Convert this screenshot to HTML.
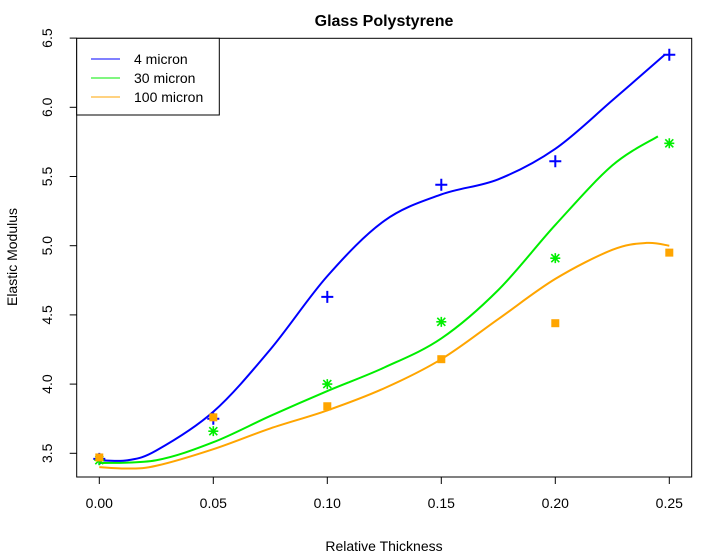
<!DOCTYPE html>
<html><head><meta charset="utf-8"><style>
body{margin:0;background:#fff}
svg{display:block;font-family:"Liberation Sans",Arial,sans-serif}
</style></head><body>
<svg id="chart" width="711" height="554" viewBox="0 0 711 554"></svg>
<script>
const xTicks=[0,0.05,0.1,0.15,0.2,0.25];
const xTickLabels=["0.00","0.05","0.10","0.15","0.20","0.25"];
const yTicks=[3.5,4,4.5,5,5.5,6,6.5];
const yTickLabels=["3.5","4.0","4.5","5.0","5.5","6.0","6.5"];
const ptX=[0,0.05,0.1,0.15,0.2,0.25];
const pts4=[3.46,3.75,4.63,5.44,5.61,6.38];
const pts30=[3.45,3.66,4.0,4.45,4.91,5.74];
const pts100=[3.47,3.76,3.84,4.18,4.44,4.95];
const curve4X=[0,0.0125,0.025,0.05,0.075,0.1,0.125,0.15,0.175,0.2,0.225,0.248];
const curve4Y=[3.45,3.45,3.52,3.80,4.25,4.78,5.18,5.37,5.48,5.70,6.05,6.38];
const curve30X=[0,0.025,0.05,0.075,0.1,0.125,0.15,0.175,0.2,0.225,0.245];
const curve30Y=[3.43,3.45,3.58,3.77,3.95,4.12,4.33,4.68,5.15,5.58,5.79];
const curve100X=[0,0.0125,0.025,0.05,0.075,0.1,0.125,0.15,0.175,0.2,0.225,0.24,0.25];
const curve100Y=[3.40,3.39,3.41,3.53,3.68,3.81,3.97,4.18,4.47,4.76,4.97,5.02,5.00];
const NS="http://www.w3.org/2000/svg";
const svg=document.getElementById('chart');
const sx=v=>99.3+v/0.05*114;
const sy=v=>453.3-(v-3.5)/0.5*69.2;
function mk(t,a,p){const e=document.createElementNS(NS,t);for(const k in a)e.setAttribute(k,a[k]);(p||svg).appendChild(e);return e;}
let e;
e=mk('rect',{x:76.7,y:38.3,width:615,height:438.7,fill:'none',stroke:'#000','stroke-width':1});


e=mk('text',{x:384,y:26,'text-anchor':'middle','font-size':16,'font-weight':'bold'});e.textContent='Glass Polystyrene';


e=mk('text',{x:384,y:551,'text-anchor':'middle','font-size':14});e.textContent='Relative Thickness';


e=mk('text',{x:17,y:257,'text-anchor':'middle','font-size':14,transform:'rotate(-90 17 257)'});e.textContent='Elastic Modulus';


xTicks.forEach((t,i)=>{
  e=mk('line',{x1:sx(t),x2:sx(t),y1:477,y2:484,stroke:'#000'});
  
  
  e=mk('text',{x:sx(t),y:508,'text-anchor':'middle','font-size':14});e.textContent=xTickLabels[i];
  
  
});
yTicks.forEach((t,i)=>{
  e=mk('line',{x1:69.7,x2:76.7,y1:sy(t),y2:sy(t),stroke:'#000'});
  
  
  e=mk('text',{x:52,y:sy(t),'text-anchor':'middle','font-size':14,transform:`rotate(-90 52 ${sy(t)})`});e.textContent=yTickLabels[i];
  
  
});
function curvePath(X,Y){
  const P=X.map((x,i)=>[sx(x),sy(Y[i])]);
  let d=`M${P[0][0]},${P[0][1]}`;
  for(let i=0;i<P.length-1;i++){
    const p0=P[i-1]||P[i],p1=P[i],p2=P[i+1],p3=P[i+2]||P[i+1];
    d+=` C${p1[0]+(p2[0]-p0[0])/6},${p1[1]+(p2[1]-p0[1])/6} ${p2[0]-(p3[0]-p1[0])/6},${p2[1]-(p3[1]-p1[1])/6} ${p2[0]},${p2[1]}`;
  }
  return d;
}
e=mk('path',{d:curvePath(curve100X,curve100Y),fill:'none',stroke:'#FFA500','stroke-width':2});


e=mk('path',{d:curvePath(curve30X,curve30Y),fill:'none',stroke:'#00EE00','stroke-width':2});


e=mk('path',{d:curvePath(curve4X,curve4Y),fill:'none',stroke:'#0000FF','stroke-width':2});


ptX.forEach((x,i)=>{
  const cx=sx(x),cy=sy(pts4[i]);
  e=mk('path',{d:`M${cx-6},${cy}H${cx+6}M${cx},${cy-6}V${cy+6}`,stroke:'#0000FF','stroke-width':2});
  
  
});
ptX.forEach((x,i)=>{
  const cx=sx(x),cy=sy(pts30[i]);
  e=mk('path',{d:`M${cx-5},${cy}H${cx+5}M${cx},${cy-5}V${cy+5}M${cx-4},${cy-4}L${cx+4},${cy+4}M${cx-4},${cy+4}L${cx+4},${cy-4}`,stroke:'#00EE00','stroke-width':1.6});
  
  
});
ptX.forEach((x,i)=>{
  e=mk('rect',{x:sx(x)-4,y:sy(pts100[i])-4,width:8,height:8,fill:'#FFA500'});
  
  
});
const lg=mk('g',{});


mk('rect',{x:76.7,y:38.3,width:142.6,height:76.7,fill:'#fff',stroke:'#000'},lg);
[["4 micron","#0000FF"],["30 micron","#00EE00"],["100 micron","#FFA500"]].forEach((s,i)=>{
  const y=59+i*19;
  const g=mk('g',{},lg);
  
  
  mk('line',{x1:91,x2:120,y1:y,y2:y,stroke:s[1],'stroke-width':1},g);
  const t=mk('text',{x:134,y:y+5,'font-size':14},g);t.textContent=s[0];
});
</script>
</body></html>
